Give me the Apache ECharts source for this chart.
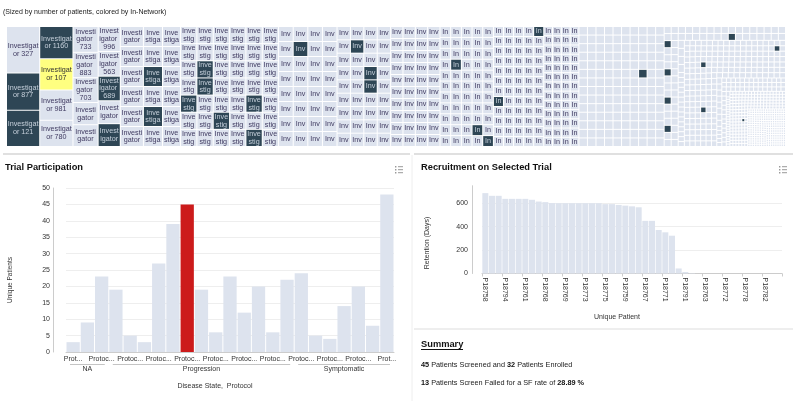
<!DOCTYPE html>
<html><head><meta charset="utf-8">
<script src="https://cdn.jsdelivr.net/npm/echarts@6.0.0/dist/echarts.min.js"></script>
<style>html,body{margin:0;padding:0;background:#fff;}#c{width:793px;height:401px;}</style>
</head><body><div id="c"></div>
<script>
// ---------------- Treemap: investigators (sized by patients, coloured by In-Network) -------------
const investigatorNames = [
  'Investigator 327', 'Investigator 877', 'Investigator 121',
  'Investigator 1160', 'Investigator 107', 'Investigator 981', 'Investigator 780',
  'Investigator 733', 'Investigator 883', 'Investigator 703', 'Investigator', 'Investigator',
  'Investigator 996', 'Investigator 563', 'Investigator 689', 'Investigator', 'Investigator'
];
const investigatorPatients = [38.0, 30.5, 29.7, 26.4, 25.6, 24.8, 21.5, 16.0, 15.75, 15.4, 13.75, 13.5, 13.6, 13.5, 13.4, 12.5, 12.45];
// remaining (unlabelled) investigators: size level and how many investigators share it
const groupPatients = [11.4, 9.4, 8.9, 6.9, 5.4, 4.4, 3.65, 2.87, 2.48, 2.0, 1.8, 1.22, 0.75, 0.5, 0.225, 0.125];
const groupCounts   = [6,    6,   6,   42,  32,  36,  40,   55,   60,   52,  140, 68,   221,  60,  200,   280];
// positions (in size order) of the In-Network investigators
const inNetworkIdx = [1, 2, 3, 14, 16, 25, 27, 39, 44, 45, 54, 67, 69, 86, 119, 130, 131, 199, 227, 239, 247, 288,
  455, 494, 498, 502, 506, 548, 626, 692, 700, 994];
const selectedInvestigatorIdx = 4;

// ---------------- Trial participation ----------------
const diseaseStates = ['NA', 'Progression', 'Symptomatic'];
const protocolsPerState = [3, 13, 7];
const protocolNames = Array(23).fill('Protocol');
const uniquePatients = [3, 9, 23, 19, 5, 3, 27, 39, 45, 19, 6, 23, 12, 20, 6, 22, 24, 5, 4, 14, 20, 8, 48];
const selectedProtocolIdx = 8;
const trialAxis = {min: 0, max: 50, interval: 5};

// ---------------- Recruitment on selected trial ----------------
const patientIds = ['P18758','','','P18794','','','P18761','','','P18768','','','P18769','','','P18773','','',
  'P18775','','','P18759','','','P18767','','','P18771','','','P18791','','','P18763','','','P18772','','',
  'P18778','','','P18782','',''];
const retentionDays = [687, 664, 664, 638, 638, 638, 638, 630, 615, 610, 602, 601, 601, 601, 601, 601, 601, 601,
  593, 593, 586, 580, 574, 566, 450, 450, 372, 352, 323, 43, 13, 3, 0, 0, 0, 0, 0, 0, 0, 0, 0, 0, 0, 0, 0];
const recruitAxis = {min: 0, max: 750, interval: 200};
const summaryCounts = [45, 32]; // screened, enrolled

// ---------------- build ----------------
const LIGHT = '#dde3ee', DARK = '#2e4655', YELLOW = '#ffff80', RED = '#cc1b1b';
const FONT = '"Liberation Sans", Arial, sans-serif';
const chart = echarts.init(document.getElementById('c'));

const tmData = [];
investigatorNames.forEach((n, i) => tmData.push({name: n, value: investigatorPatients[i]}));
groupPatients.forEach((v, g) => { for (let k = 0; k < groupCounts[g]; k++) tmData.push({name: 'Investigator', value: v}); });
const darkSet = new Set(inNetworkIdx);
tmData.forEach((d, i) => {
  const sel = i === selectedInvestigatorIdx, dark = darkSet.has(i);
  d.itemStyle = {color: sel ? YELLOW : dark ? DARK : LIGHT};
  d.label = {color: sel ? '#333' : dark ? '#c6d0db' : '#3f3a60'};
});

const statePerBar = [];
const stateCenters = new Set();
let s0 = 0;
protocolsPerState.forEach((n, g) => {
  for (let k = 0; k < n; k++) statePerBar.push(diseaseStates[g]);
  stateCenters.add(s0 + Math.floor(n / 2));
  s0 += n;
});

const screened = summaryCounts[0], enrolled = summaryCounts[1];
const failed = screened - enrolled;
const sfRate = (failed / screened * 100).toFixed(2);

function txt(x, y, text, font, fill, extra) {
  return Object.assign({type: 'text', x: x, y: y, silent: true,
    style: {text: text, font: font, fill: fill || '#222', verticalAlign: 'middle'}}, extra || {});
}
function icon(x, y) {
  const ch = [];
  for (let i = 0; i < 3; i++) {
    ch.push({type: 'rect', shape: {x: 0, y: i * 3, width: 1.4, height: 1.4}, style: {fill: '#999'}});
    ch.push({type: 'rect', shape: {x: 3, y: i * 3 + 0.2, width: 5, height: 1}, style: {fill: '#999'}});
  }
  return {type: 'group', x: x, y: y, children: ch, silent: true};
}
const staticGraphics = [
  txt(3, 11.7, '(Sized by number of patients, colored by In-Network)', '7px ' + FONT),
  {type: 'line', shape: {x1: 3, y1: 154, x2: 410, y2: 154}, style: {stroke: '#e0e0e0', lineWidth: 2}, silent: true},
  {type: 'line', shape: {x1: 414, y1: 154, x2: 793, y2: 154}, style: {stroke: '#e0e0e0', lineWidth: 2}, silent: true},
  {type: 'line', shape: {x1: 412, y1: 155, x2: 412, y2: 401}, style: {stroke: '#eeeeee', lineWidth: 1}, silent: true},
  {type: 'line', shape: {x1: 414, y1: 329, x2: 793, y2: 329}, style: {stroke: '#eeeeee', lineWidth: 2}, silent: true},
  txt(5, 167, 'Trial Participation', 'bold 9.3px ' + FONT, '#111'),
  txt(421, 167, 'Recruitment on Selected Trial', 'bold 9.3px ' + FONT, '#111'),
  icon(395, 166), icon(779, 166),
  {type: 'text', x: 10, y: 280, rotation: Math.PI / 2, silent: true,
    style: {text: 'Unique Patients', font: '6.5px ' + FONT, fill: '#333', align: 'center', verticalAlign: 'middle'}},
  {type: 'text', x: 215, y: 386, silent: true,
    style: {text: 'Disease State,  Protocol', font: '7px ' + FONT, fill: '#333', align: 'center', verticalAlign: 'middle'}},
  {type: 'text', x: 427, y: 243, rotation: Math.PI / 2, silent: true,
    style: {text: 'Retention (Days)', font: '7px ' + FONT, fill: '#333', align: 'center', verticalAlign: 'middle'}},
  {type: 'text', x: 617, y: 317, silent: true,
    style: {text: 'Unique Patient', font: '7px ' + FONT, fill: '#333', align: 'center', verticalAlign: 'middle'}},
  txt(421, 344, 'Summary', 'bold 9.3px ' + FONT, '#111'),
  {type: 'line', shape: {x1: 421, y1: 349.5, x2: 463, y2: 349.5}, style: {stroke: '#111', lineWidth: 1}, silent: true},
  {type: 'text', x: 421, y: 365, silent: true,
    style: {text: '{b|' + screened + '} Patients Screened and {b|' + enrolled + '} Patients Enrolled',
      font: '7.3px ' + FONT, fill: '#222', verticalAlign: 'middle',
      rich: {b: {fontWeight: 'bold', fontSize: 7.3, fontFamily: FONT, fill: '#111'}}}},
  {type: 'text', x: 421, y: 383, silent: true,
    style: {text: '{b|' + failed + '} Patients Screen Failed for a SF rate of {b|' + sfRate + ' %}',
      font: '7.3px ' + FONT, fill: '#222', verticalAlign: 'middle',
      rich: {b: {fontWeight: 'bold', fontSize: 7.3, fontFamily: FONT, fill: '#111'}}}}
];

const axisLabelStyle = {fontSize: 7, color: '#333', fontFamily: FONT};
const option = {
  animation: false,
  textStyle: {fontFamily: FONT},
  grid: [
    {left: 66, top: 188, width: 328, height: 164, outerBoundsMode: 'none', containLabel: false},
    {left: 482, top: 185.75, width: 300, height: 87.75, outerBoundsMode: 'none', containLabel: false}
  ],
  xAxis: [
    {type: 'category', gridIndex: 0, data: protocolNames,
      axisLine: {lineStyle: {color: '#ccc'}}, axisTick: {show: false}, splitLine: {show: false},
      axisLabel: Object.assign({}, axisLabelStyle, {interval: 1, margin: 4,
        formatter: (v, i) => v.slice(0, (i === 0 || i === uniquePatients.length - 1) ? 4 : 6) + '...'})},
    {type: 'category', gridIndex: 0, data: statePerBar, position: 'bottom', offset: 14,
      axisLine: {show: false}, axisTick: {show: false}, splitLine: {show: false},
      axisLabel: Object.assign({}, axisLabelStyle, {margin: 0, interval: (i) => stateCenters.has(i)})},
    {type: 'category', gridIndex: 1, data: patientIds,
      axisLine: {lineStyle: {color: '#ccc'}},
      axisTick: {show: true, interval: 2, length: 3, lineStyle: {color: '#ccc'}}, splitLine: {show: false},
      axisLabel: Object.assign({}, axisLabelStyle, {interval: 2, rotate: -90, margin: 4})}
  ],
  yAxis: [
    {type: 'value', gridIndex: 0, min: trialAxis.min, max: trialAxis.max, interval: trialAxis.interval, offset: 13,
      axisLine: {show: true, lineStyle: {color: '#ccc'}}, axisTick: {show: false},
      axisLabel: Object.assign({}, axisLabelStyle, {margin: 3}),
      splitLine: {show: true, lineStyle: {color: '#eeeeee'}}},
    {type: 'value', gridIndex: 1, min: recruitAxis.min, max: recruitAxis.max, interval: recruitAxis.interval, offset: 10,
      axisLine: {show: true, lineStyle: {color: '#ccc'}}, axisTick: {show: false},
      axisLabel: Object.assign({}, axisLabelStyle, {margin: 4, showMaxLabel: false}),
      splitLine: {show: true, showMaxLine: false, lineStyle: {color: '#eeeeee'}}}
  ],
  series: [
    {type: 'treemap', left: 7, top: 27, width: 778, height: 119,
      data: tmData, sort: false, squareRatio: 1, visibleMin: 0,
      roam: false, nodeClick: false, breadcrumb: {show: false}, silent: true,
      itemStyle: {borderWidth: 0, gapWidth: 1, borderColor: '#fff'},
      label: {show: true, position: 'inside', fontSize: 7.2, lineHeight: 7.8, fontFamily: FONT,
        padding: [0, 0.5], overflow: 'break', lineOverflow: 'truncate'},
      upperLabel: {show: false}},
    {type: 'bar', xAxisIndex: 0, yAxisIndex: 0, barCategoryGap: '7%', silent: true,
      data: uniquePatients.map((v, i) => ({value: v, itemStyle: {color: i === selectedProtocolIdx ? RED : LIGHT}}))},
    {type: 'bar', xAxisIndex: 2, yAxisIndex: 1, barCategoryGap: '10%', silent: true,
      itemStyle: {color: LIGHT}, data: retentionDays}
  ],
  graphic: {elements: staticGraphics}
};
chart.setOption(option);

// brackets under the disease-state groups, positioned through the category axis
const band = chart.convertToPixel({xAxisIndex: 0}, 1) - chart.convertToPixel({xAxisIndex: 0}, 0);
const yBase = chart.convertToPixel({yAxisIndex: 0}, 0);
const brackets = [];
let st = 0;
protocolsPerState.forEach((n) => {
  const x1 = chart.convertToPixel({xAxisIndex: 0}, st) - band / 2 + 4;
  const x2 = chart.convertToPixel({xAxisIndex: 0}, st + n - 1) + band / 2 - 4;
  brackets.push({type: 'line', silent: true, shape: {x1: x1, y1: yBase + 12.5, x2: x2, y2: yBase + 12.5},
    style: {stroke: '#c4c4c4', lineWidth: 1}});
  st += n;
});
chart.setOption({graphic: {elements: staticGraphics.concat(brackets)}});
</script></body></html>
